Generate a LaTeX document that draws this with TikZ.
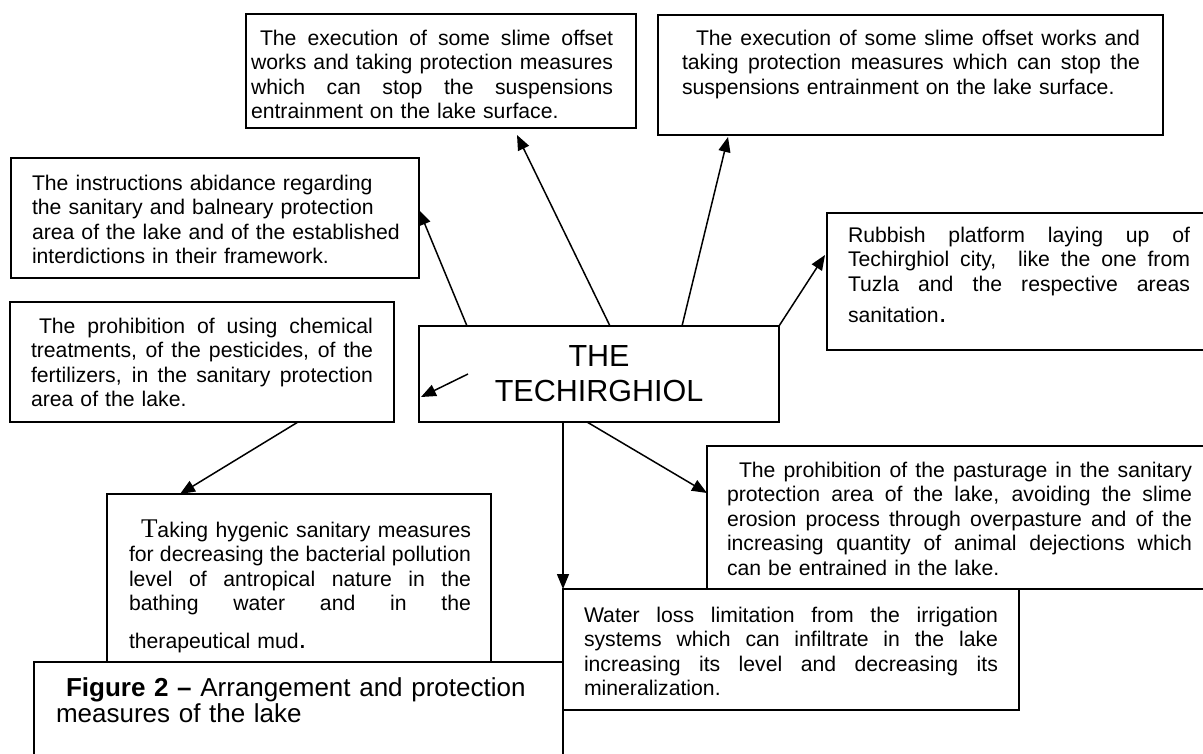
\documentclass[tikz,border=0pt]{standalone}
\usepackage{fontspec}
\setmainfont{Liberation Sans}
\newfontfamily\serifT{Liberation Serif}
\usetikzlibrary{arrows.meta}
\newdimen\JW
\newcommand\jbox[1]{\leavevmode\hbox to \JW{\spaceskip=0.278em plus 1fil minus 0.03em\xspaceskip=\spaceskip\relax #1}}
\newcommand\jl[1]{\jbox{#1}\\}
\newcommand\bigdot{{\fontsize{28}{28}\selectfont .}}
\begin{document}
\begin{tikzpicture}[x=1pt,y=-1pt,
  box/.style={draw=black, line width=1.8pt, inner sep=0pt, outer sep=0pt, anchor=north west},
  txt/.style={inner sep=0pt, outer sep=0pt, anchor=base west, align=left, text width=#1,
     execute at begin node={\global\JW=#1\relax}, font=\fontsize{21.2}{24.5}\selectfont},
  arr/.style={line width=1.5pt, -{Triangle[length=15pt,width=12pt]}}]
\path[use as bounding box] (0,0) rectangle (1203,753);
\clip (0,0) rectangle (1203,753);
% boxes
\node[box, minimum width=390pt, minimum height=114pt] (A) at (246,14) {};
\node[box, minimum width=505pt, minimum height=120pt] (B) at (658,15) {};
\node[box, minimum width=408pt, minimum height=120pt] (C) at (11,158) {};
\node[box, minimum width=384pt, minimum height=120pt] (D) at (10,302) {};
\node[box, minimum width=380pt, minimum height=137pt] (F) at (827,213) {};
\node[box, minimum width=500pt, minimum height=143pt] (G) at (707,446) {};
\node[box, minimum width=456pt, minimum height=121pt] (W) at (563,589) {};
\node[box, minimum width=384pt, minimum height=168pt] (Tk) at (107,494) {};
\node[box, minimum width=529pt, minimum height=100pt] (Cap) at (34,662) {};
\node[box, anchor=center, minimum width=360pt, minimum height=96pt, align=center,
      font=\fontsize{30.5}{35}\selectfont] (E) at (599,374) {THE\\TECHIRGHIOL};
% texts
\node[txt=362pt] (At) at (251,45) {\jl{\hspace*{9pt}The execution of some slime offset}\jl{works and taking protection measures}\jl{which can stop the suspensions}entrainment on the lake surface.};
\node[txt=458pt] (Bt) at (682,45) {\jl{\hspace*{14pt}The execution of some slime offset works and}\jl{taking protection measures which can stop the}suspensions entrainment on the lake surface.};
\node[txt=385pt] (Ct) at (32,190) {The instructions abidance regarding\\the sanitary and balneary protection\\area of the lake and of the established\\interdictions in their framework.};
\node[txt=342pt] (Dt) at (31,333) {\jl{\hspace*{8pt}The prohibition of using chemical}\jl{treatments, of the pesticides, of the}\jl{fertilizers, in the sanitary protection}area of the lake.};
\node[txt=342pt] (Ft) at (848,242) {\jl{Rubbish platform laying up of}\jl{Techirghiol city,\ \ like the one from}\jbox{Tuzla and the respective areas}\\[7pt]sanitation\bigdot};
\node[txt=465pt] (Gt) at (727,477) {\jl{\hspace*{12pt}The prohibition of the pasturage in the sanitary}\jl{protection area of the lake, avoiding the slime}\jl{erosion process through overpasture and of the}\jl{increasing quantity of animal dejections which}can be entrained in the lake.};
\node[txt=414pt] (Wt) at (584,622) {\jl{Water loss limitation from the irrigation}\jl{systems which can infiltrate in the lake}\jl{increasing its level and decreasing its}mineralization.};
\node[txt=342pt] (Tt) at (129,537) {\jl{\hspace*{12pt}{\serifT\fontsize{27}{27}\selectfont T}aking hygenic sanitary measures}\jl{for decreasing the bacterial pollution}\jl{level of antropical nature in the}\jbox{bathing water and in the}\\[13pt]therapeutical mud\bigdot};
\node[txt=500pt, font=\fontsize{26}{26}\selectfont] (Capt) at (56,696) {\hspace*{10pt}\textbf{Figure 2 –} Arrangement and protection\\measures of the lake};
% arrows
\draw[arr] ([xshift=-132pt]E.north) -- ([yshift=8pt]C.east);
\draw[arr] ([xshift=11pt]E.north) -- ([xshift=76pt,yshift=-7pt]A.south);
\draw[arr] ([xshift=83pt]E.north) -- ([xshift=-182.5pt,yshift=-2pt]B.south);
\draw[arr] (E.north east) -- ([xshift=-2pt,yshift=26.5pt]F.west);
\draw[arr] ([xshift=-12pt]E.south) -- ([yshift=24.5pt]G.west);
\draw[arr] ([xshift=-36pt]E.south) -- (W.north west);
\draw[arr] ([xshift=-131pt]E.center) -- ([xshift=2pt,yshift=-23pt]E.west);
\draw[arr] ([xshift=96pt]D.south) -- ([xshift=-119pt]Tk.north);
\end{tikzpicture}
\end{document}
